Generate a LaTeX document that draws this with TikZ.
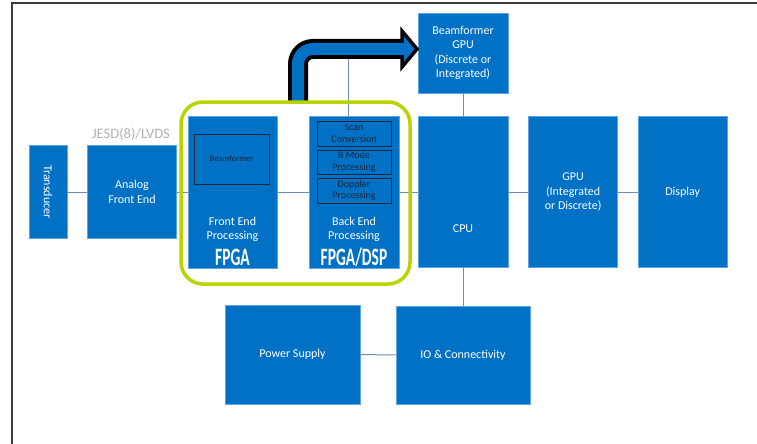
\documentclass[tikz,border=0pt]{standalone}
\usepackage{fontspec}
\setmainfont{Carlito}
\usepackage{graphicx}
\usetikzlibrary{positioning}
\definecolor{intelblue}{RGB}{0,113,197}
\definecolor{edgeblue}{RGB}{95,165,225}
\definecolor{linkgray}{RGB}{110,140,175}
\definecolor{limegreen}{RGB}{184,212,0}
\definecolor{navy}{RGB}{22,38,58}
\definecolor{jesdgray}{RGB}{178,178,178}
\definecolor{framegray}{RGB}{60,60,60}
\newcommand{\chipname}[1]{\scalebox{0.62}[1]{#1}}
\tikzstyle{block} = [rectangle, fill=intelblue, draw=edgeblue, line width=0.6pt, text=white, align=center, inner sep=0pt, font=\fontsize{12}{14.5}\selectfont]
\tikzstyle{subblock} = [rectangle, fill=intelblue, draw=navy, line width=1pt, text=navy, align=center, inner sep=0pt, minimum width=74pt, font=\fontsize{10}{11.5}\selectfont]
\tikzstyle{blocktext} = [text=white, align=center, inner sep=0pt, font=\fontsize{12}{14.5}\selectfont]
\tikzstyle{chiptext} = [text=white, inner sep=0pt, font=\fontsize{25}{25}\selectfont\bfseries]
\tikzstyle{link} = [draw=linkgray, line width=1pt]

\begin{document}
\begin{tikzpicture}[x=1pt, y=-1pt, node distance=3pt]
    \useasboundingbox (0,0) rectangle (757,444);
    % frame of the screenshot
    \draw[framegray, line width=1.5pt] (12,444) -- (12,3) -- (757,3);

    \node (trans) [block, rotate=-90, minimum width=93pt, minimum height=38pt] at (48,192) {Transducer};
    \node (afe) [block, minimum width=89pt, minimum height=93pt] at (132,192) {Analog\\Front End};
    \node (jesd) [text=jesdgray, inner sep=0pt, font=\fontsize{14.5}{14.5}\selectfont] at (131,134) {JESD(8)/LVDS};

    \node (fe) [block, minimum width=89pt, minimum height=152pt] at (232.5,192) {};
    \node (beamf) [subblock, minimum width=75pt, minimum height=50pt, font=\fontsize{8.5}{9}\selectfont] at (231.5,159) {Beamformer};
    \node (fetext) [blocktext] at (232.5,229.5) {Front End\\Processing};
    \node (fechip) [chiptext] at (232.5,257) {\chipname{FPGA}};

    \node (be) [block, minimum width=90pt, minimum height=152pt] at (354,192) {};
    \node (scan) [subblock, minimum height=25pt] at (354,133.5) {Scan\\Conversion};
    \node (bmode) [subblock, minimum height=24pt, below=of scan] {B Mode\\Processing};
    \node (doppler) [subblock, minimum height=25pt, below=of bmode] {Doppler\\Processing};
    \node (betext) [blocktext] at (354,229.5) {Back End\\Processing};
    \node (bechip) [chiptext] at (354,257) {\chipname{FPGA/DSP}};

    \node (cpu) [block, minimum width=90pt, minimum height=151pt] at (463,192) {};
    \node (cputext) [blocktext] at (463,229) {CPU};
    \node (gpu) [block, minimum width=89pt, minimum height=151pt, right=20pt of cpu] {GPU\\(Integrated\\or Discrete)};
    \node (disp) [block, minimum width=89pt, minimum height=151pt, right=20pt of gpu] {Display};
    \node (bgpu) [block, minimum width=90pt, minimum height=80pt] at (463,53) {Beamformer\\GPU\\(Discrete or\\Integrated)};

    \node (psu) [block, minimum width=135pt, minimum height=99pt] at (292.5,354.5) {Power Supply};
    \node (io) [block, minimum width=134pt, minimum height=98pt] at (463,355) {IO \& Connectivity};

    \coordinate (armbase) at (348,58);
    \draw[link] (trans) -- (afe);
    \draw[link] (afe) -- (fe);
    \draw[link] (fe) -- (be);
    \draw[link] (be) -- (cpu);
    \draw[link] (cpu) -- (gpu);
    \draw[link] (gpu) -- (disp);
    \draw[link] (bgpu) -- (cpu);
    \draw[link] (cpu) -- (io);
    \draw[link] (psu) -- (io);
    \draw[link] (armbase) -- (armbase |- be.north);

    % wide arrow up to the beamformer GPU
    \draw[black, line width=20pt, rounded corners=15pt] (298,101) -- (298,49) -- (404,49);
    \filldraw[fill=intelblue, draw=black, line width=3.5pt, line join=miter] (402,31) -- (417,49) -- (402,67) -- cycle;
    \draw[intelblue, line width=12pt, rounded corners=15pt] (298,101) -- (298,49) -- (407,49);

    % FPGA group
    \draw[limegreen, line width=3.5pt, rounded corners=22pt] (181,102) rectangle (410,284);
\end{tikzpicture}
\end{document}
